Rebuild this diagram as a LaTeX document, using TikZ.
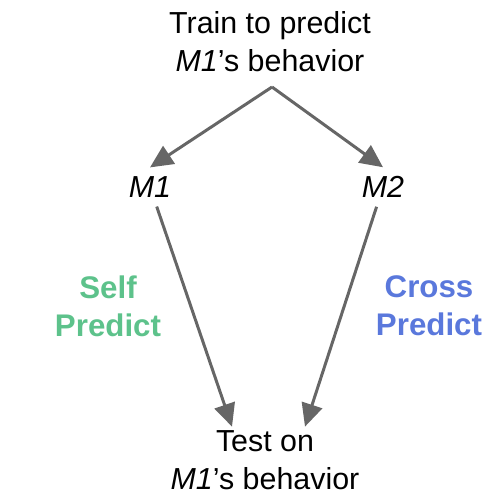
\documentclass[tikz,border=0pt]{standalone}
\usepackage{fontspec}
\setmainfont{Liberation Sans}
\usepackage{tikz}
\usetikzlibrary{arrows.meta}
\definecolor{selfgreen}{HTML}{5DC28B}
\definecolor{crossblue}{HTML}{5A78DC}
\def\mone{\textit{M1}}

\begin{document}
\begin{tikzpicture}[x=0.02cm,y=-0.02cm,font=\fontsize{17.3}{21.5}\selectfont,
	every node/.style={align=center},
	model/.style={inner sep=5pt},
	label/.style={font=\fontsize{17.8}{21.5}\selectfont\bfseries},
	arr/.style={-{Triangle[length=13pt,width=12pt]},draw=black!60,line width=1.7pt}]
\useasboundingbox (0,0) rectangle (500,500);
\node						(train)		at (270,42)		{Train to predict\\\mone's behavior};
\coordinate					(apex)		at (272,87);
\node[model]				(m1)		at (150,187)	{\textit{M1}};
\node[model]				(m2)		at (383,187)	{\textit{M2}};
\node[inner sep=2pt]		(test)		at (265,460)	{Test on\\\mone's behavior};
\node[label,text=selfgreen]	(self)		at (108,306)	{Self\\Predict};
\node[label,text=crossblue]	(cross)		at (429,306)	{Cross\\Predict};
\path
(apex)		edge[arr]													(m1.north)
			edge[arr]													(m2.north)
(m1)		edge[arr]													([xshift=-0.66cm]test.north)
(m2)		edge[arr]													([xshift=0.8cm]test.north)
;
\end{tikzpicture}
\end{document}
